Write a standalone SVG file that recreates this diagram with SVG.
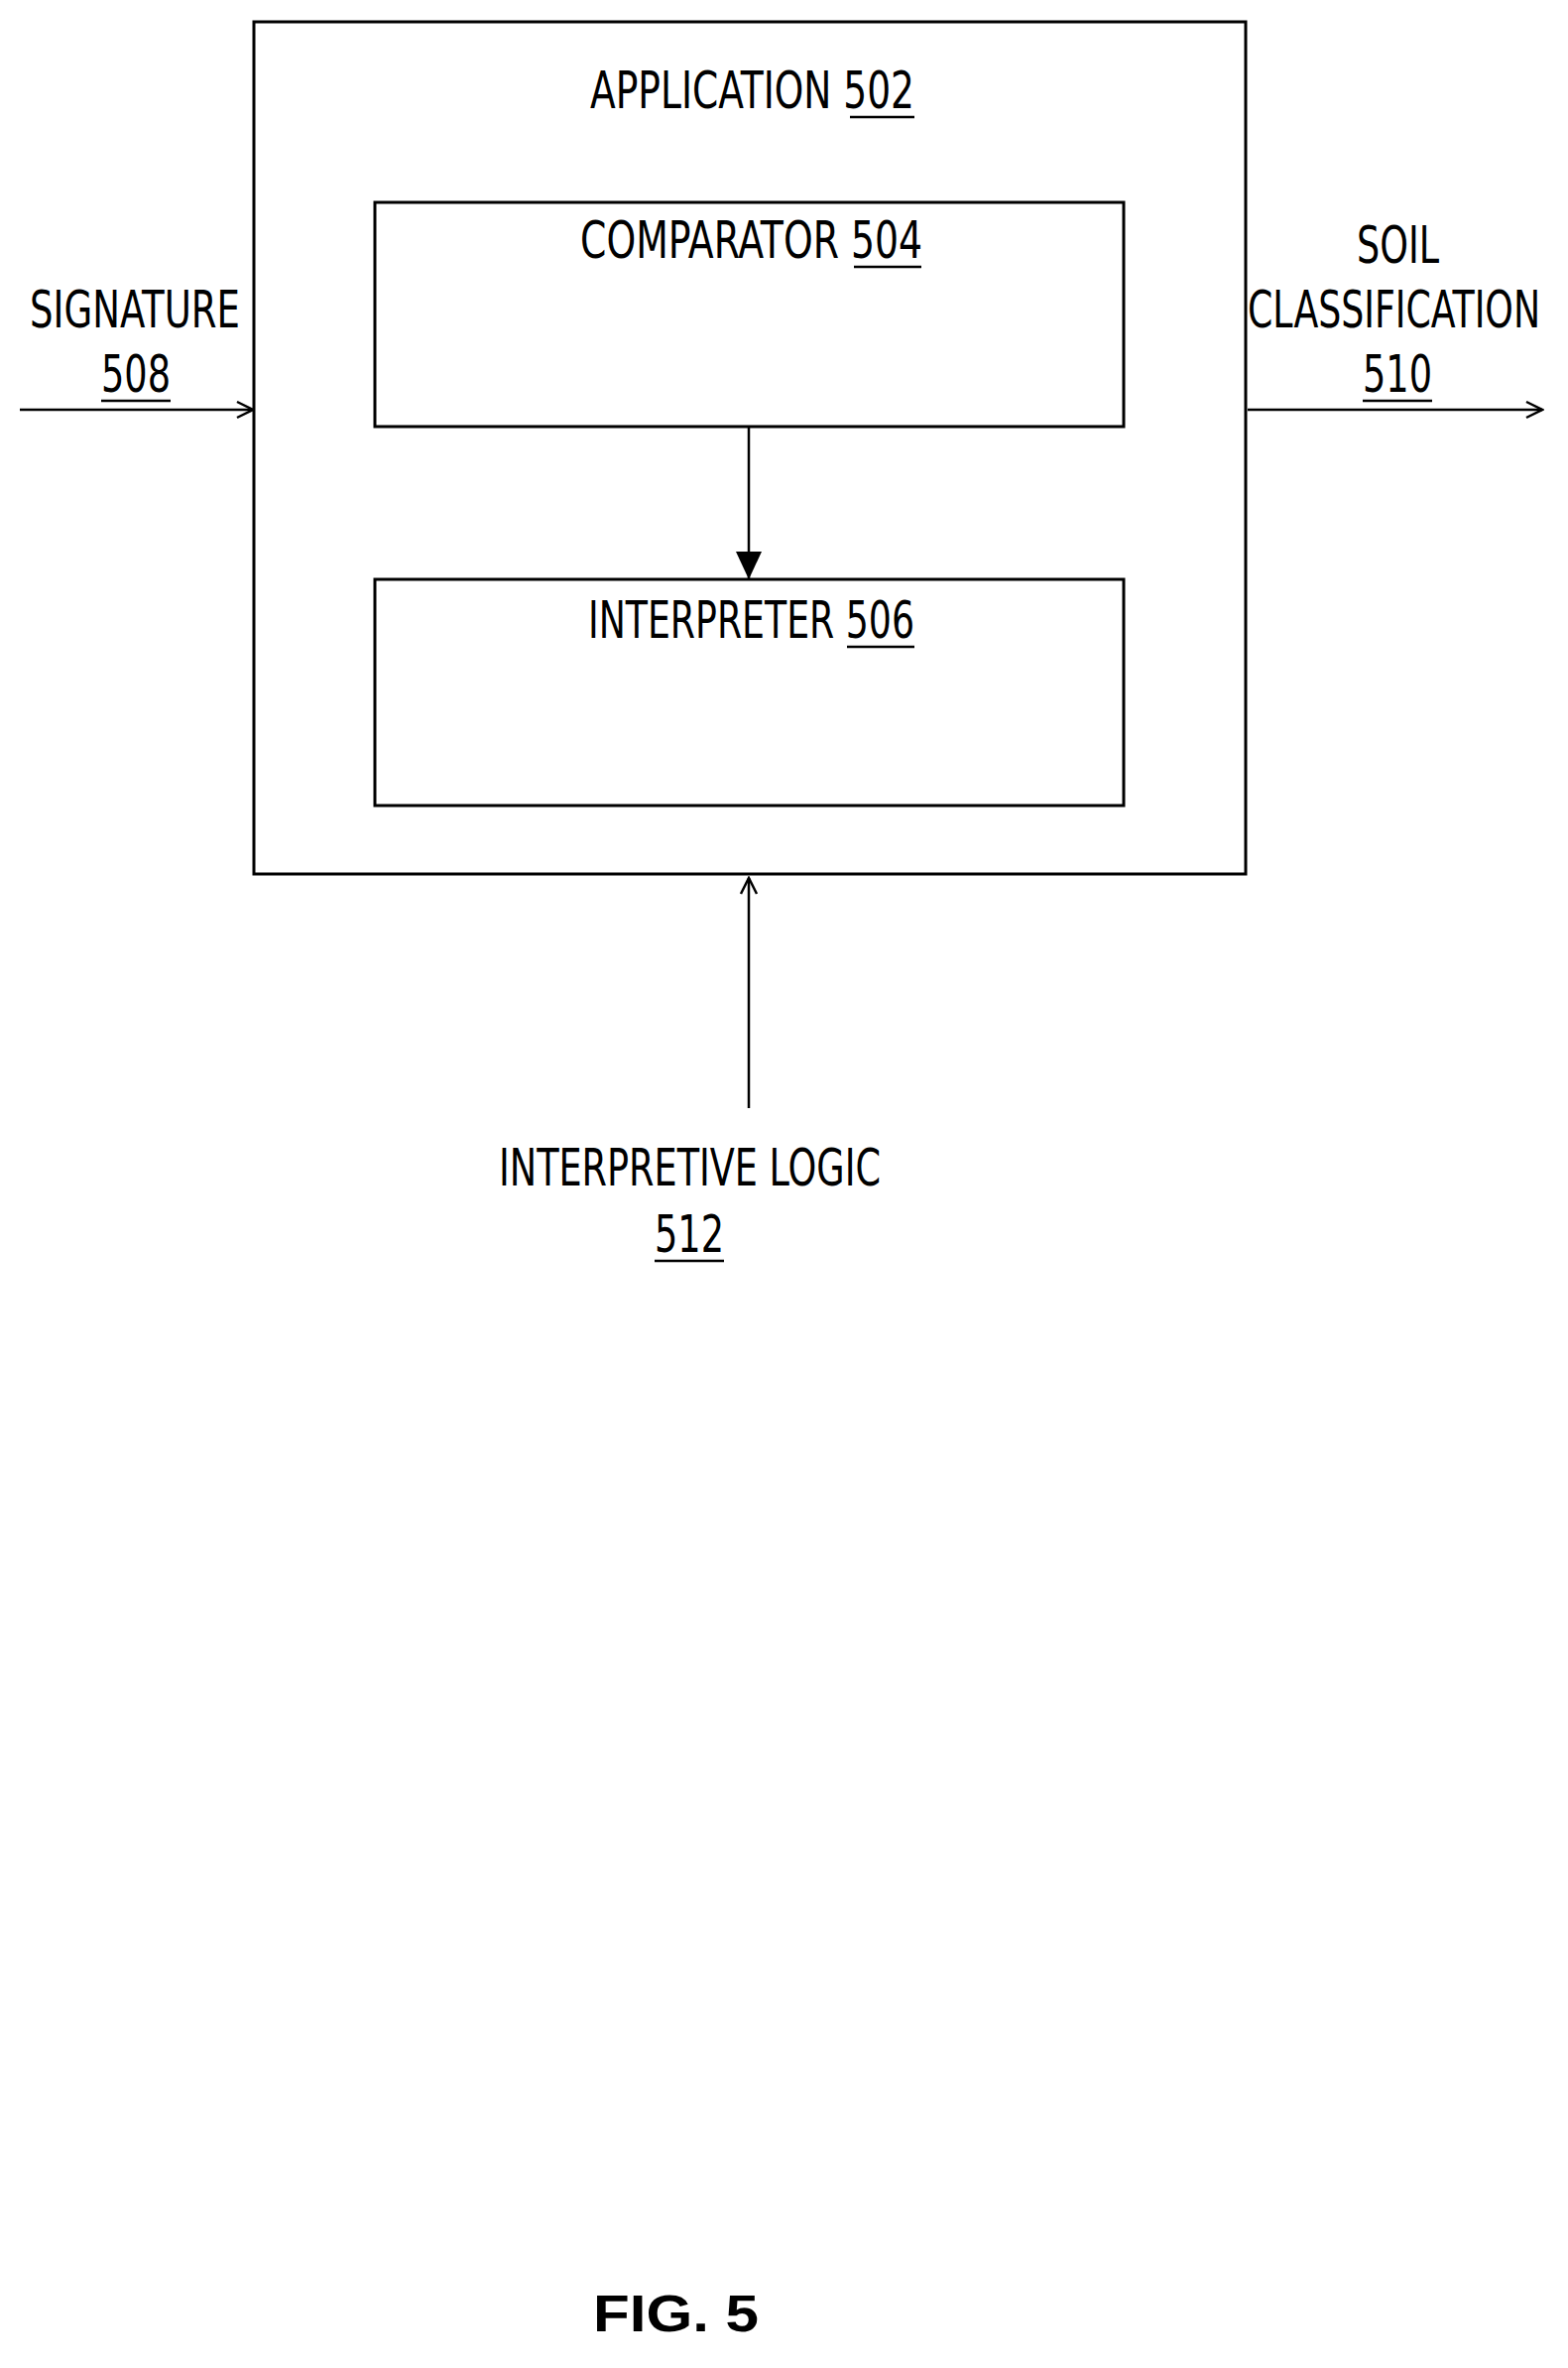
<svg xmlns="http://www.w3.org/2000/svg" width="1581" height="2387" viewBox="0 0 1581 2387">
<style>
.b{fill:none;stroke:#000;stroke-width:3}
.l{stroke:#000;stroke-width:2.5;fill:none}
.u{stroke:#000;stroke-width:2.5}
text{font-family:"DejaVu Sans Condensed","Liberation Sans",sans-serif;font-size:52px;fill:#000}
.f{font-family:"Liberation Sans",Arial,sans-serif;font-weight:bold;font-size:52px}
</style>
<defs>
<marker id="open" markerWidth="20" markerHeight="20" refX="18" refY="10" orient="auto" markerUnits="userSpaceOnUse"><path d="M2,2 L18,10 L2,18" fill="none" stroke="#000" stroke-width="2.5"/></marker>
<marker id="solid" markerWidth="30" markerHeight="30" refX="28" refY="15" orient="auto" markerUnits="userSpaceOnUse"><path d="M0,2 L28,15 L0,28 Z" fill="#000"/></marker>
</defs>
<g id="application"><rect class="b" x="256" y="22" width="1000" height="859"/>
<text x="595" y="109" textLength="327" lengthAdjust="spacingAndGlyphs">APPLICATION 502</text><line class="u" x1="857" y1="118" x2="922" y2="118"/></g>
<g id="comparator"><rect class="b" x="378" y="204" width="755" height="226"/>
<text x="585" y="260" textLength="345" lengthAdjust="spacingAndGlyphs">COMPARATOR 504</text><line class="u" x1="861" y1="269" x2="929" y2="269"/></g>
<g id="interpreter"><rect class="b" x="378" y="584" width="755" height="228"/>
<text x="593" y="643" textLength="329" lengthAdjust="spacingAndGlyphs">INTERPRETER 506</text><line class="u" x1="854" y1="652" x2="922" y2="652"/></g>
<g id="signature"><text x="30" y="330" textLength="212" lengthAdjust="spacingAndGlyphs">SIGNATURE</text>
<text x="102" y="395" textLength="70" lengthAdjust="spacingAndGlyphs">508</text><line class="u" x1="102" y1="404" x2="172" y2="404"/></g>
<g id="soil"><text x="1368" y="265" textLength="83" lengthAdjust="spacingAndGlyphs">SOIL</text>
<text x="1258" y="330" textLength="295" lengthAdjust="spacingAndGlyphs">CLASSIFICATION</text>
<text x="1374" y="395" textLength="70" lengthAdjust="spacingAndGlyphs">510</text><line class="u" x1="1374" y1="404" x2="1444" y2="404"/></g>
<g id="logic"><text x="503" y="1195" textLength="385" lengthAdjust="spacingAndGlyphs">INTERPRETIVE LOGIC</text>
<text x="660" y="1262" textLength="70" lengthAdjust="spacingAndGlyphs">512</text><line class="u" x1="660" y1="1271" x2="730" y2="1271"/></g>
<g id="connectors">
<line class="l" x1="755" y1="430" x2="755" y2="584" marker-end="url(#solid)"/>
<line class="l" x1="20" y1="413" x2="255" y2="413" marker-end="url(#open)"/>
<line class="l" x1="1258" y1="413" x2="1555" y2="413" marker-end="url(#open)"/>
<line class="l" x1="755" y1="1117" x2="755" y2="885" marker-end="url(#open)"/>
</g>
<text class="f" x="598" y="2350" textLength="167" lengthAdjust="spacingAndGlyphs">FIG. 5</text>
</svg>
